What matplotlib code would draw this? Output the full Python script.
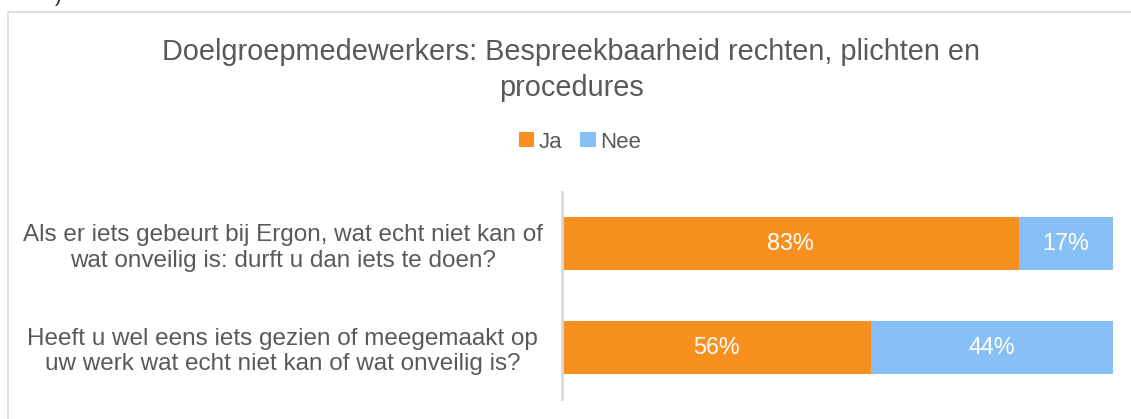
import numpy as np
import matplotlib.pyplot as plt
from matplotlib.patches import Rectangle

plt.rcParams['font.family'] = ['Liberation Sans', 'DejaVu Sans']

# data
vragen = ['Als er iets gebeurt bij Ergon, wat echt niet kan of\nwat onveilig is: durft u dan iets te doen?',
          'Heeft u wel eens iets gezien of meegemaakt op\nuw werk wat echt niet kan of wat onveilig is?']
ja = [0.83, 0.56]
nee = [0.17, 0.44]
reeksen = ['Ja', 'Nee']
kleuren = ['#F7901E', '#87C0F7']
grijs = '#595959'

fig = plt.figure(figsize=(11.31, 4.19), dpi=100)

# kader rond de grafiek (rechts en onder buiten beeld)
fig.patches.append(Rectangle((8/1131, -0.1), 1.2, 1 - 12/419 + 0.1, transform=fig.transFigure,
                             fill=False, edgecolor='#D9D9D9', linewidth=1.2))
fig.text(58/1131, 1.005, ')', fontsize=14, color='#222222', ha='center', va='center')

ax = fig.add_axes([562/1131, 1 - 399/419, 551/1131, 207/419])
y = np.arange(len(vragen))
b1 = ax.barh(y, ja, height=0.51, color=kleuren[0], label=reeksen[0])
b2 = ax.barh(y, nee, left=ja, height=0.51, color=kleuren[1], label=reeksen[1])
for bars, vals in ((b1, ja), (b2, nee)):
    for r, v in zip(bars, vals):
        ax.text(r.get_x() + r.get_width()/2, r.get_y() + r.get_height()/2, f'{v:.0%}',
                ha='center', va='center', color='white', fontsize=16.8)

ax.set_xlim(0, 1)
ax.set_ylim(1.5, -0.5)
ax.set_yticks(y)
ax.set_yticklabels(vragen, fontsize=17.5, color=grijs, ha='center', linespacing=1.2)
ax.tick_params(axis='y', length=0, pad=201)
ax.set_xticks([])
for s in ['top', 'right', 'bottom']:
    ax.spines[s].set_visible(False)
ax.spines['left'].set_color('#D9D9D9')
ax.spines['left'].set_linewidth(2)

fig.text(571/1131, 1 - 70/419, 'Doelgroepmedewerkers: Bespreekbaarheid rechten, plichten en\nprocedures',
         ha='center', va='center', fontsize=20.8, color=grijs, linespacing=1.38)

leg = fig.legend(handles=[b1, b2], labels=reeksen, loc='center', bbox_to_anchor=(580/1131, 1 - 142/419),
                 ncol=2, frameon=False, fontsize=16, handlelength=0.7, handleheight=0.7,
                 handletextpad=0.2, columnspacing=0.8)
for t in leg.get_texts():
    t.set_color(grijs)

plt.savefig('out.png', dpi=100)
